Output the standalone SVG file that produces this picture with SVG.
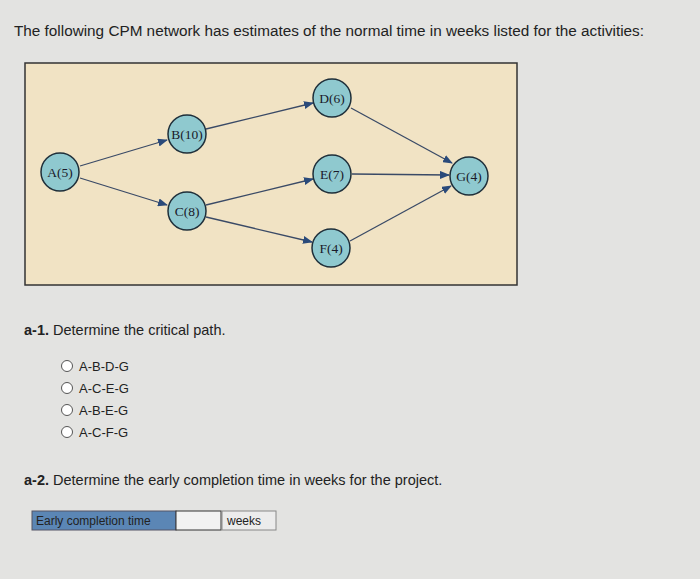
<svg xmlns="http://www.w3.org/2000/svg" width="700" height="579" viewBox="0 0 700 579">
<defs>
<marker id="ar" markerWidth="10" markerHeight="8" refX="9" refY="4" orient="auto" markerUnits="userSpaceOnUse"><path d="M0,0 L10,4 L0,8 Z" fill="#2a4a7a"/></marker>
</defs>
<style>
.n{fill:#8fc9cf;stroke:#1f2f3a;stroke-width:1.5}
.nt{font-family:"Liberation Serif",serif;font-size:13.5px;fill:#1a1a2a;text-anchor:middle}
.e{stroke:#3a4a66;stroke-width:1.3;fill:none;marker-end:url(#ar)}
.t{font-family:"Liberation Sans",Arial,sans-serif;fill:#222}
</style>
<rect width="700" height="579" fill="#e3e3e1"/>
<text class="t" x="14" y="36" font-size="15.3">The following CPM network has estimates of the normal time in weeks listed for the activities:</text>
<rect x="25" y="63" width="492" height="222" fill="#f1e3c4" stroke="#333" stroke-width="1.5"/>
<g id="connectors">
<line class="e" x1="80" y1="166" x2="167" y2="140"/>
<line class="e" x1="80" y1="178" x2="167" y2="205"/>
<line class="e" x1="206" y1="129" x2="313" y2="103"/>
<line class="e" x1="206" y1="205" x2="313" y2="179"/>
<line class="e" x1="206" y1="217" x2="312" y2="242"/>
<line class="e" x1="351" y1="108" x2="452" y2="163"/>
<line class="e" x1="352" y1="174" x2="449" y2="175"/>
<line class="e" x1="350" y1="241" x2="451" y2="186"/>
</g>
<g id="A"><circle class="n" cx="60" cy="172" r="19"/><text class="nt" x="60" y="177">A(5)</text></g>
<g id="B"><circle class="n" cx="187" cy="134" r="19"/><text class="nt" x="187" y="139">B(10)</text></g>
<g id="C"><circle class="n" cx="187" cy="211" r="19"/><text class="nt" x="187" y="216">C(8)</text></g>
<g id="D"><circle class="n" cx="332" cy="98" r="19"/><text class="nt" x="332" y="103">D(6)</text></g>
<g id="E"><circle class="n" cx="332" cy="174" r="19"/><text class="nt" x="332" y="179">E(7)</text></g>
<g id="F"><circle class="n" cx="331" cy="248" r="19"/><text class="nt" x="331" y="253">F(4)</text></g>
<g id="G"><circle class="n" cx="469" cy="176" r="19"/><text class="nt" x="469" y="181">G(4)</text></g>
<text class="t" x="24" y="335" font-size="14.5"><tspan font-weight="bold">a-1.</tspan> Determine the critical path.</text>
<g class="t" font-size="13">
<circle cx="67" cy="366" r="5.5" fill="#fff" stroke="#555"/><text x="79" y="371">A-B-D-G</text>
<circle cx="67" cy="388" r="5.5" fill="#fff" stroke="#555"/><text x="79" y="393">A-C-E-G</text>
<circle cx="67" cy="410" r="5.5" fill="#fff" stroke="#555"/><text x="79" y="415">A-B-E-G</text>
<circle cx="67" cy="432" r="5.5" fill="#fff" stroke="#555"/><text x="79" y="437">A-C-F-G</text>
</g>
<text class="t" x="24" y="485" font-size="14.5"><tspan font-weight="bold">a-2.</tspan> Determine the early completion time in weeks for the project.</text>
<rect x="32" y="511" width="144" height="19" fill="#5b86b5" stroke="#556"/>
<text class="t" x="36" y="525" font-size="12" fill="#102040">Early completion time</text>
<rect x="176" y="511" width="45" height="19" fill="#f2f2f2" stroke="#333"/>
<rect x="222" y="511" width="54" height="19" fill="#ececec" stroke="#888"/>
<text class="t" x="227" y="525" font-size="12">weeks</text>
</svg>
